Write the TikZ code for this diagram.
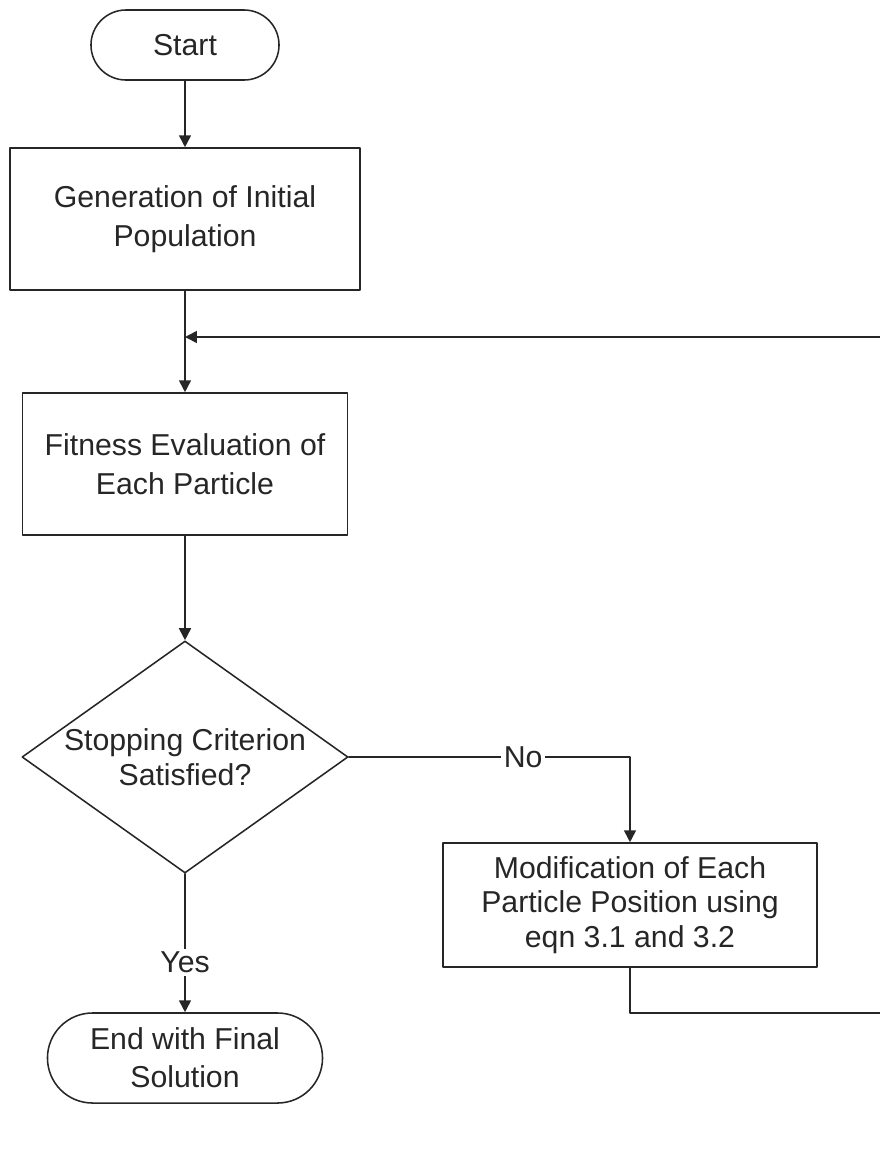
\documentclass[tikz,border=0pt]{standalone}
\usepackage{fontspec}
\setmainfont{Liberation Sans}
\usetikzlibrary{arrows.meta, positioning, shapes.geometric, shapes.misc}

\begin{document}
\begin{tikzpicture}[x=0.025cm, y=-0.025cm, line cap=round, line join=round,
    box/.style={draw=black!85, line width=1.1pt, rectangle, inner sep=0pt, align=center, text=black!85, font=\fontsize{21.5}{28}\selectfont},
    term/.style={draw=black!85, line width=1.1pt, rounded rectangle, inner sep=0pt, align=center, text=black!85, font=\fontsize{21.5}{27}\selectfont},
    decision/.style={draw=black!85, line width=1.1pt, diamond, inner sep=0pt},
    flow/.style={draw=black!85, -{Triangle[length=8.5pt, width=8.5pt]}, line width=1.2pt},
    lbl/.style={fill=white, inner sep=2pt, text=black!85, font=\fontsize{21.5}{26}\selectfont}]

    \clip (0,0) rectangle (880,1153);

    % Nodes
    \node[term, minimum width=4.7cm, minimum height=1.75cm] (start) at (185,45) {Start};
    \node[box, minimum width=8.75cm, minimum height=3.55cm] (gen) at (185,219) {Generation of Initial\\Population};
    \node[box, minimum width=8.125cm, minimum height=3.55cm] (fit) at (185,464) {Fitness Evaluation of\\Each Particle};
    \node[decision, minimum width=8.15cm, minimum height=5.8cm] (dec) at (185,757) {};
    \node[text=black!85, align=center, font=\fontsize{21.5}{25}\selectfont] (dectxt) at (dec.center) {Stopping Criterion\\Satisfied?};
    \node[box, minimum width=9.35cm, minimum height=3.1cm, font=\fontsize{21.5}{24.5}\selectfont] (mod) at (630,905) {Modification of Each\\Particle Position using\\eqn 3.1 and 3.2};
    \node[term, minimum width=6.875cm, minimum height=2.25cm] (end) at (185,1058) {End with Final\\Solution};

    % loop corners (the right one lies past the edge)
    \coordinate (loopr) at (900,1013);
    \coordinate (loopin) at (185,337);

    % Arrows
    \draw[flow] (start) -- (gen);
    \draw[flow] (gen) -- (fit);
    \draw[flow] (fit) -- (dec);
    \draw[flow] (dec.east) -| node[lbl, pos=0.31] {No} (mod.north);
    \draw[flow] (dec.south) -- node[lbl, pos=0.64] {Yes} (end);
    \draw[flow] (mod.south) |- (loopr) |- (loopin);

\end{tikzpicture}
\end{document}
